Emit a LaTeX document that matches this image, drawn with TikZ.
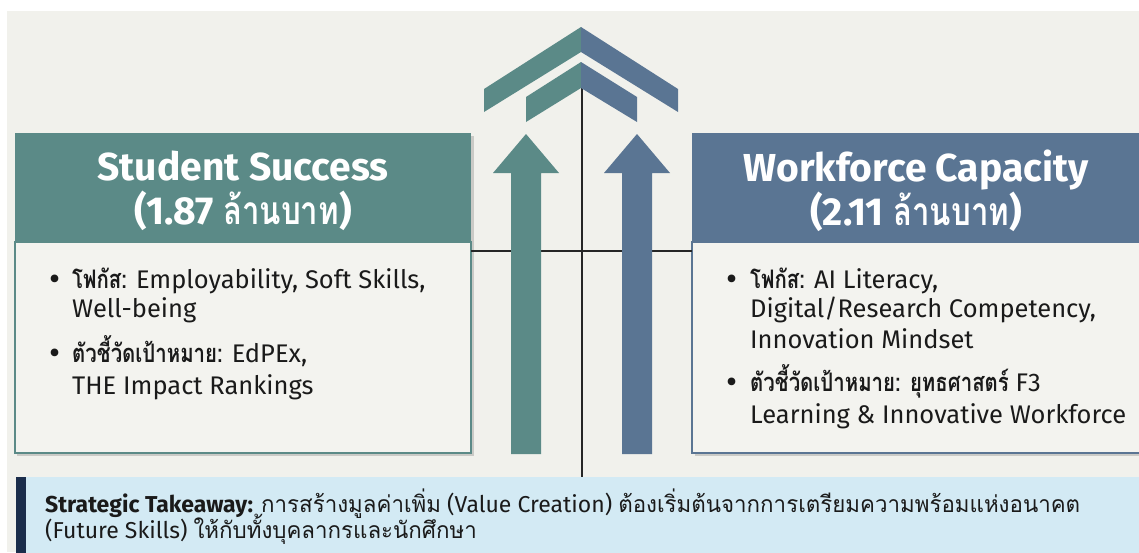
\documentclass[tikz,border=0pt]{standalone}
\usepackage{fontspec}
\setmainfont{Fira Sans}
\newfontfamily\thai[Script=Thai, FakeStretch=0.8]{Loma}
\newfontfamily\thaiw[Script=Thai, FakeStretch=0.97]{Loma}
\definecolor{bgc}{HTML}{F1F1EC}
\definecolor{tealc}{HTML}{5B8A87}
\definecolor{bluec}{HTML}{5A7593}
\definecolor{bodyc}{HTML}{F3F3EF}
\definecolor{takec}{HTML}{D3EAF4}
\definecolor{navyc}{HTML}{1B2D4B}
\definecolor{txtc}{HTML}{1A1A1A}
\tikzset{
  hdrbox/.style={rectangle, anchor=north west, inner sep=0pt, outer sep=0pt, minimum height=109pt},
  bodybox/.style={rectangle, anchor=north west, inner sep=0pt, outer sep=0pt, minimum height=211pt, fill=bodyc, line width=1.2pt},
  htext/.style={text=white, font=\fontsize{39}{44}\selectfont\bfseries, align=center, inner sep=0pt},
  btext/.style={anchor=base west, inner sep=0pt, text=txtc, font=\fontsize{25.5}{30}\selectfont},
  bul/.style={anchor=base, inner sep=0pt, text=txtc, font=\fontsize{34}{30}\selectfont},
  ttext/.style={anchor=base west, inner sep=0pt, text=txtc, font=\fontsize{23}{26}\selectfont},
  conn/.style={draw=black!85, line width=1.3pt},
  shadowc/.style={fill=black, opacity=0.16}
}
\begin{document}
\begin{tikzpicture}[x=1pt,y=-1pt]
\useasboundingbox (0,0) rectangle (1139,552);
\fill[white] (0,0) rectangle (1139,552);
\fill[bgc] (7,11) rectangle (1139,552);

% shadows
\fill[shadowc] (17,136) rectangle (474,456);
\fill[shadowc] (695,136) rectangle (1139,456);

% boxes
\node[hdrbox, fill=tealc, minimum width=456pt] (lhead) at (15,133) {};
\node[bodybox, draw=tealc, minimum width=456pt] (lbody) at (15,242) {};
\node[hdrbox, fill=bluec, minimum width=452pt] (rhead) at (692,133) {};
\node[bodybox, draw=bluec, minimum width=452pt] (rbody) at (692,242) {};

% takeaway box
\node[rectangle, anchor=north west, inner sep=0pt, outer sep=0pt, fill=takec, minimum width=1125pt, minimum height=76pt] (take) at (16,477) {};
\fill[navyc] (take.north west) rectangle ([xshift=10pt]take.south west);

% connectors
\draw[conn] ([yshift=-9pt]lbody.north east) -- ([yshift=-9pt]rbody.north west);
\coordinate (apex) at (582,88);
\draw[conn] (apex) -- (apex |- take.north);

% up arrows
\fill[tealc] (526,134) -- (559,173) -- (541,173) -- (541,454) -- (511,454) -- (511,173) -- (493,173) -- cycle;
\fill[bluec] (637,134) -- (670,173) -- (652,173) -- (652,454) -- (622,454) -- (622,173) -- (604,173) -- cycle;

% chevrons
\fill[tealc] (581,27) -- (484,89) -- (484,112) -- (581,52) -- cycle;
\fill[bluec] (581,27) -- (678,89) -- (678,112) -- (581,52) -- cycle;
\fill[tealc] (581,62) -- (526,97) -- (526,122) -- (581,88) -- cycle;
\fill[bluec] (581,62) -- (637,97) -- (637,122) -- (581,88) -- cycle;

% header texts
\node[htext] (lht) at (243,191) {Student Success\\(1.87 {\thai ล้านบาท})};
\node[htext] (rht) at (916,191) {Workforce Capacity\\(2.11 {\thai ล้านบาท})};

% left body
\node[bul] (lb1) at (55,290) {\textbullet};
\node[btext] (l1) at (72,288) {{\thai\bfseries โฟกัส:} Employability, Soft Skills,};
\node[btext] (l2) at (72,317) {Well-being};
\node[bul] (lb2) at (55,364) {\textbullet};
\node[btext] (l3) at (72,362) {{\thai\bfseries ตัวชี้วัดเป้าหมาย:} EdPEx,};
\node[btext] (l4) at (72,394) {THE Impact Rankings};

% right body
\node[bul] (rb1) at (732,290) {\textbullet};
\node[btext] (r1) at (750,288) {{\thai\bfseries โฟกัส:} AI Literacy,};
\node[btext] (r2) at (750,317) {Digital/Research Competency,};
\node[btext] (r3) at (750,348) {Innovation Mindset};
\node[bul] (rb2) at (732,393) {\textbullet};
\node[btext] (r4) at (750,391) {{\thai\bfseries ตัวชี้วัดเป้าหมาย: ยุทธศาสตร์} F3};
\node[btext] (r5) at (750,423) {Learning \& Innovative Workforce};

% takeaway text
\node[ttext] (t1) at (45,512) {\textbf{Strategic Takeaway:} {\thaiw การสร้างมูลค่าเพิ่ม} (Value Creation) {\thaiw ต้องเริ่มต้นจากการเตรียมความพร้อมแห่งอนาคต}};
\node[ttext] (t2) at (45,538) {(Future Skills) {\thaiw ให้กับทั้งบุคลากรและนักศึกษา}};
\end{tikzpicture}
\end{document}
